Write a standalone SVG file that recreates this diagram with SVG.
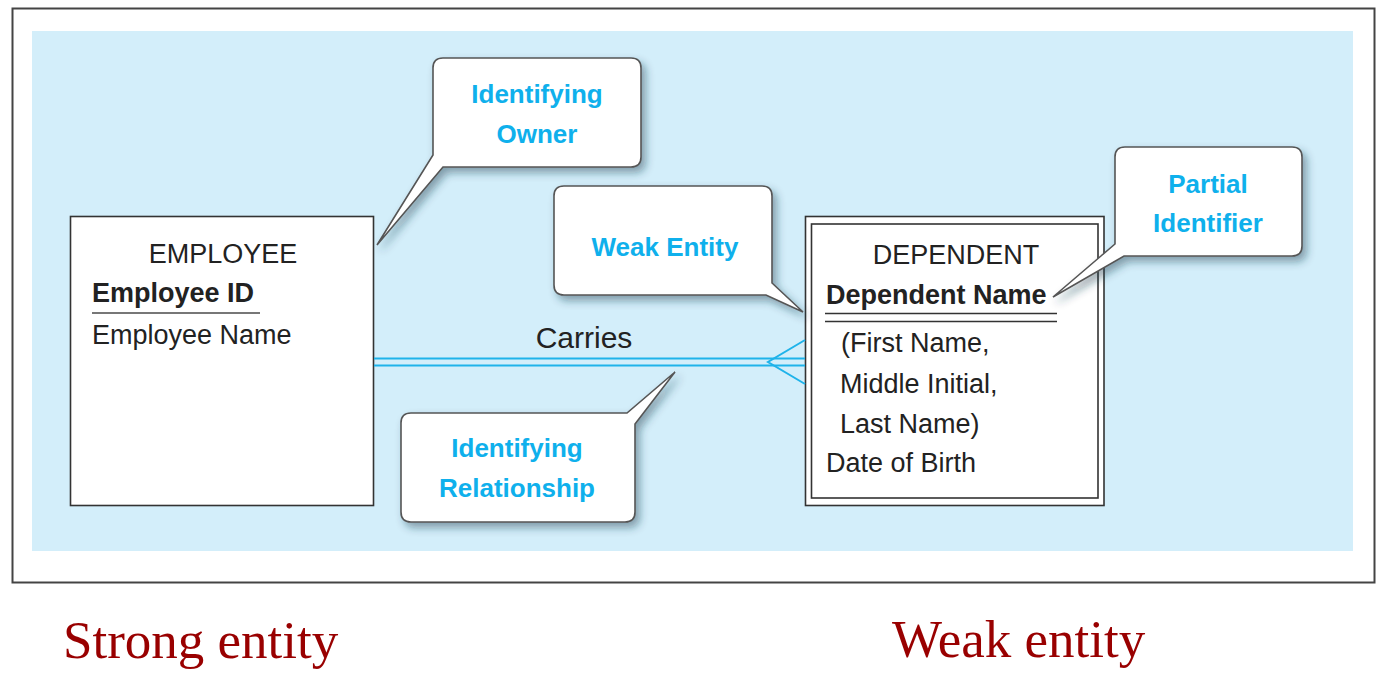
<svg xmlns="http://www.w3.org/2000/svg" width="1390" height="692" viewBox="0 0 1390 692">
<defs>
<filter id="sh" x="-20%" y="-20%" width="150%" height="160%">
<feDropShadow dx="4" dy="5" stdDeviation="4" flood-color="#1c3a4a" flood-opacity="0.45"/>
</filter>
<style>
.ent{fill:#fff;stroke:#333;stroke-width:1.6}
.et{font-family:"Liberation Sans",Arial,sans-serif;font-size:27px;fill:#222}
.eb{font-weight:bold}
.co{fill:#fff;stroke:#555;stroke-width:1.6;filter:url(#sh)}
.ct{font-family:"Liberation Sans",Arial,sans-serif;font-size:26px;font-weight:bold;fill:#0fb0ec;text-anchor:middle}
.ln{stroke:#1fb3ea;stroke-width:2;fill:none}
.lbl{font-family:"Liberation Serif","Times New Roman",serif;font-size:53px;fill:#990000}
</style>
</defs>
<rect x="12.5" y="8.5" width="1362" height="574" fill="#fff" stroke="#444" stroke-width="2"/>
<rect x="32" y="31" width="1321" height="520" fill="#d3eefa"/>

<g id="employee">
<rect class="ent" x="70.5" y="216.5" width="303" height="289"/>
<text class="et" x="223" y="263" text-anchor="middle">EMPLOYEE</text>
<text class="et eb" x="92" y="302">Employee ID</text>
<line x1="92" y1="313" x2="260" y2="313" stroke="#777" stroke-width="2"/>
<text class="et" x="92" y="344">Employee Name</text>
</g>

<g id="dependent">
<rect class="ent" x="805.5" y="216.5" width="298.5" height="289"/>
<rect x="811.5" y="224" width="286.5" height="274" fill="none" stroke="#333" stroke-width="1.6"/>
<text class="et" x="956" y="264" text-anchor="middle">DEPENDENT</text>
<text class="et eb" x="826" y="304">Dependent Name</text>
<line x1="825" y1="313.5" x2="1057" y2="313.5" stroke="#333" stroke-width="1.6"/>
<line x1="825" y1="321.5" x2="1057" y2="321.5" stroke="#333" stroke-width="1.6"/>
<text class="et" x="841" y="352">(First Name,</text>
<text class="et" x="840" y="393">Middle Initial,</text>
<text class="et" x="840" y="433">Last Name)</text>
<text class="et" x="826" y="472">Date of Birth</text>
</g>

<g id="connectors">
<line class="ln" x1="374" y1="358.5" x2="805" y2="358.5"/>
<line class="ln" x1="374" y1="365.5" x2="805" y2="365.5"/>
<polyline class="ln" points="805,340 768,362 805,384"/>
<text x="584" y="348" font-family="'Liberation Sans',Arial,sans-serif" font-size="30" fill="#222" text-anchor="middle">Carries</text>
</g>

<g id="callout-identifying-owner">
<path class="co" d="M443 58 H631 Q641 58 641 68 V157 Q641 167 631 167 H443 L377 245 L433 155 V68 Q433 58 443 58 Z"/>
<text class="ct" x="537" y="103">Identifying</text>
<text class="ct" x="537" y="143">Owner</text>
</g>

<g id="callout-weak-entity">
<path class="co" d="M564 186 H762 Q772 186 772 196 V283 L803 312 L766 295 H564 Q554 295 554 285 V196 Q554 186 564 186 Z"/>
<text class="ct" x="665" y="256">Weak Entity</text>
</g>

<g id="callout-partial-identifier">
<path class="co" d="M1125 147 H1292 Q1302 147 1302 157 V246 Q1302 256 1292 256 H1124 L1053 297 L1115 244 V157 Q1115 147 1125 147 Z"/>
<text class="ct" x="1208" y="193">Partial</text>
<text class="ct" x="1208" y="232">Identifier</text>
</g>

<g id="callout-identifying-relationship">
<path class="co" d="M411 413 H627 L675 372 L635 424 V512 Q635 522 625 522 H411 Q401 522 401 512 V423 Q401 413 411 413 Z"/>
<text class="ct" x="517" y="457">Identifying</text>
<text class="ct" x="517" y="497">Relationship</text>
</g>

<g id="labels">
<text class="lbl" x="63" y="658">Strong entity</text>
<text class="lbl" x="892" y="657">Weak entity</text>
</g>
</svg>
